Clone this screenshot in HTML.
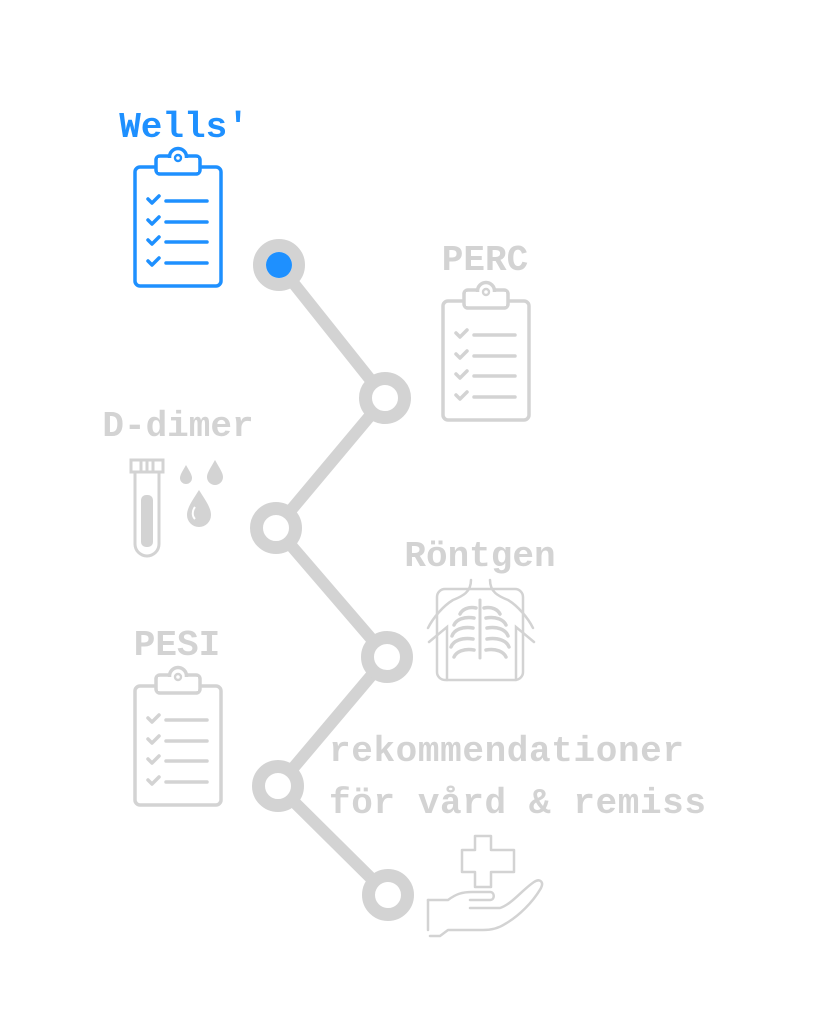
<!DOCTYPE html>
<html><head><meta charset="utf-8"><style>
html,body{margin:0;padding:0;background:#fff}
body{width:827px;height:1034px;position:relative;overflow:hidden}
svg{position:absolute;left:0;top:0}
text{font-family:"Liberation Mono",monospace;font-weight:bold}
</style></head><body>
<svg width="827" height="1034" viewBox="0 0 827 1034">
<defs>
<symbol id="clip" viewBox="0 0 90 142" overflow="visible">
<rect x="2" y="20" width="86" height="119" rx="5" fill="none" stroke="currentColor" stroke-width="3.5"/>
<rect x="23" y="9" width="44" height="18" rx="4" fill="#fff" stroke="currentColor" stroke-width="3.5"/>
<circle cx="45" cy="10" r="8.5" fill="#fff" stroke="currentColor" stroke-width="3.5"/>
<rect x="25" y="11" width="40" height="14" fill="#fff"/>
<circle cx="45" cy="11" r="3" fill="none" stroke="currentColor" stroke-width="2.4"/>
<g fill="none" stroke="currentColor" stroke-width="3.5" stroke-linecap="round" stroke-linejoin="round">
<path d="M15 52l4 4 7-7M33 54h41"/>
<path d="M15 73l4 4 7-7M33 75h41"/>
<path d="M15 93l4 4 7-7M33 95h41"/>
<path d="M15 114l4 4 7-7M33 116h41"/>
</g>
</symbol>
</defs>

<polyline points="279,265 385,398 276,528 387,657 278,786 388,895" fill="none" stroke="#d3d3d3" stroke-width="12"/>
<g fill="#fff" stroke="#d3d3d3" stroke-width="13">
<circle cx="279" cy="265" r="19.5"/>
<circle cx="385" cy="398" r="19.5"/>
<circle cx="276" cy="528" r="19.5"/>
<circle cx="387" cy="657" r="19.5"/>
<circle cx="278" cy="786" r="19.5"/>
<circle cx="388" cy="895" r="19.5"/>
</g>
<circle cx="279" cy="265" r="13" fill="#1e90ff"/>

<text x="184" y="137" font-size="36" fill="#1e90ff" text-anchor="middle">Wells'</text>
<text x="485" y="270" font-size="36" fill="#d3d3d3" text-anchor="middle">PERC</text>
<text x="178" y="436" font-size="36" fill="#d3d3d3" text-anchor="middle">D-dimer</text>
<text x="480" y="566" font-size="36" fill="#d3d3d3" text-anchor="middle">Röntgen</text>
<text x="177" y="655" font-size="36" fill="#d3d3d3" text-anchor="middle">PESI</text>
<text x="329" y="761" font-size="36" fill="#d3d3d3" textLength="355">rekommendationer</text>
<text x="329" y="813" font-size="36" fill="#d3d3d3" textLength="377">för vård &amp; remiss</text>

<use href="#clip" x="133" y="147" width="90" height="142" style="color:#1e90ff"/>
<use href="#clip" x="441" y="281" width="90" height="142" style="color:#d3d3d3"/>
<use href="#clip" x="133" y="666" width="90" height="142" style="color:#d3d3d3"/>

<g fill="none" stroke="#d3d3d3" stroke-width="3">
<rect x="131" y="460" width="32" height="12"/>
<path d="M135 472v72a12 12 0 0 0 24 0v-72"/>
<path d="M141 460v12M147 460v12M153 460v12"/>
</g>
<rect x="141" y="495" width="12" height="52" rx="5" fill="#d3d3d3"/>
<g fill="#d3d3d3">
<path d="M186 465c-4 7-6 10-6 13a6 6 0 0 0 12 0c0-3-2-6-6-13z"/>
<path d="M215 460c-5 9-8 13-8 17a8 8 0 0 0 16 0c0-4-3-8-8-17z"/>
<path d="M199 490c-7 11-12 18-12 25a12 12 0 0 0 24 0c0-7-5-14-12-25z"/>
</g>
<path d="M195 507c-3 4-3 9 0 12" fill="none" stroke="#fff" stroke-width="2"/>

<g fill="none" stroke="#d3d3d3" stroke-width="2.5" stroke-linecap="round">
<rect x="437" y="589" width="86" height="91" rx="8"/>
<path d="M471 580c0 12-8 16-18 20-10 6-20 18-25 28M490 580c0 12 8 16 18 20 10 6 20 18 25 28"/>
<path d="M429 642l18-15v53M534 642l-18-15v53"/>
<path d="M480 600v58" stroke-width="3"/>
<path d="M476 608c-8-2-14 2-16 6M484 608c8-2 14 2 16 6M474 618c-10-2-18 2-20 7M486 618c10-2 18 2 20 7M473 628c-11-2-19 2-21 8M487 628c11-2 19 2 21 8M473 639c-11-2-20 2-22 8M487 639c11-2 20 2 22 8M474 650c-10-2-18 2-20 7M486 650c10-2 18 2 20 7" stroke-width="3.5"/>
</g>

<g fill="none" stroke="#d3d3d3" stroke-width="2.5" stroke-linejoin="round" stroke-linecap="round">
<path d="M475 836h16v14h23v22h-23v15h-16v-15h-13v-22h13z"/>
<path d="M428 900h20c8-6 14-8 24-8h18c5 0 5 8 0 8h-20M470 908h30c12-4 22-18 34-26 6-4 10 0 7 6-8 14-22 28-36 36-6 4-14 6-22 6h-35l-8 6h-10"/>
<path d="M428 900v30"/>
</g>
</svg>
</body></html>
